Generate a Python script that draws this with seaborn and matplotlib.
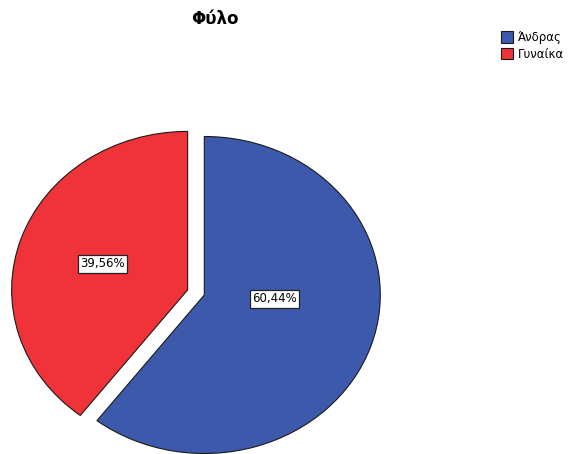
import matplotlib
matplotlib.use("Agg")
import matplotlib.pyplot as plt
import seaborn as sns

# Gender distribution (percent)
categories = ["Άνδρας", "Γυναίκα"]
percentages = [60.44, 39.56]
colors = ["#3D59AB", "#EF3339"]
title = "Φύλο"

sns.set_theme(style="white")
plt.rcParams["font.family"] = ["DejaVu Sans"]
plt.rcParams["text.color"] = "black"

W, H = 568, 454
fig = plt.figure(figsize=(W / 100, H / 100), dpi=100)
ax = fig.add_axes([0, 0, 1, 1])

wedges, texts, autotexts = ax.pie(
    percentages,
    colors=colors,
    startangle=90,
    counterclock=False,
    explode=[0.0, 0.1],
    autopct=lambda p: f"{p:.2f}%".replace(".", ","),
    pctdistance=0.51,
    wedgeprops=dict(edgecolor="#1a1a1a", linewidth=0.8),
    textprops=dict(fontsize=8.5, color="black"),
)
for t in autotexts:
    t.set_bbox(dict(boxstyle="square,pad=0.2", facecolor="white",
                    edgecolor="#222222", linewidth=0.9))
# the larger slice keeps its label nearer the centre
autotexts[0].set_position((0.40, -0.025))

# slightly flattened pie, centred left of the figure middle
cx, cy, rx, ry = 204.3, 295.0, 176.0, 158.5
ax.set_aspect("auto")
ax.set_xlim(-cx / rx, (W - cx) / rx)
ax.set_ylim(-(H - cy) / ry, cy / ry)
ax.axis("off")

fig.text(214.7 / W, 1 - 19 / H, title, ha="center", va="center",
         fontsize=12, fontweight="bold", color="black")

fig.legend(wedges, categories, loc="upper left",
           bbox_to_anchor=(501 / W, 1 - 31 / H), frameon=False,
           fontsize=8.5, borderpad=0, borderaxespad=0,
           handlelength=1.0, handleheight=1.1, handletextpad=0.45,
           labelspacing=0.3, labelcolor="black")

fig.savefig("out.png", dpi=100)
